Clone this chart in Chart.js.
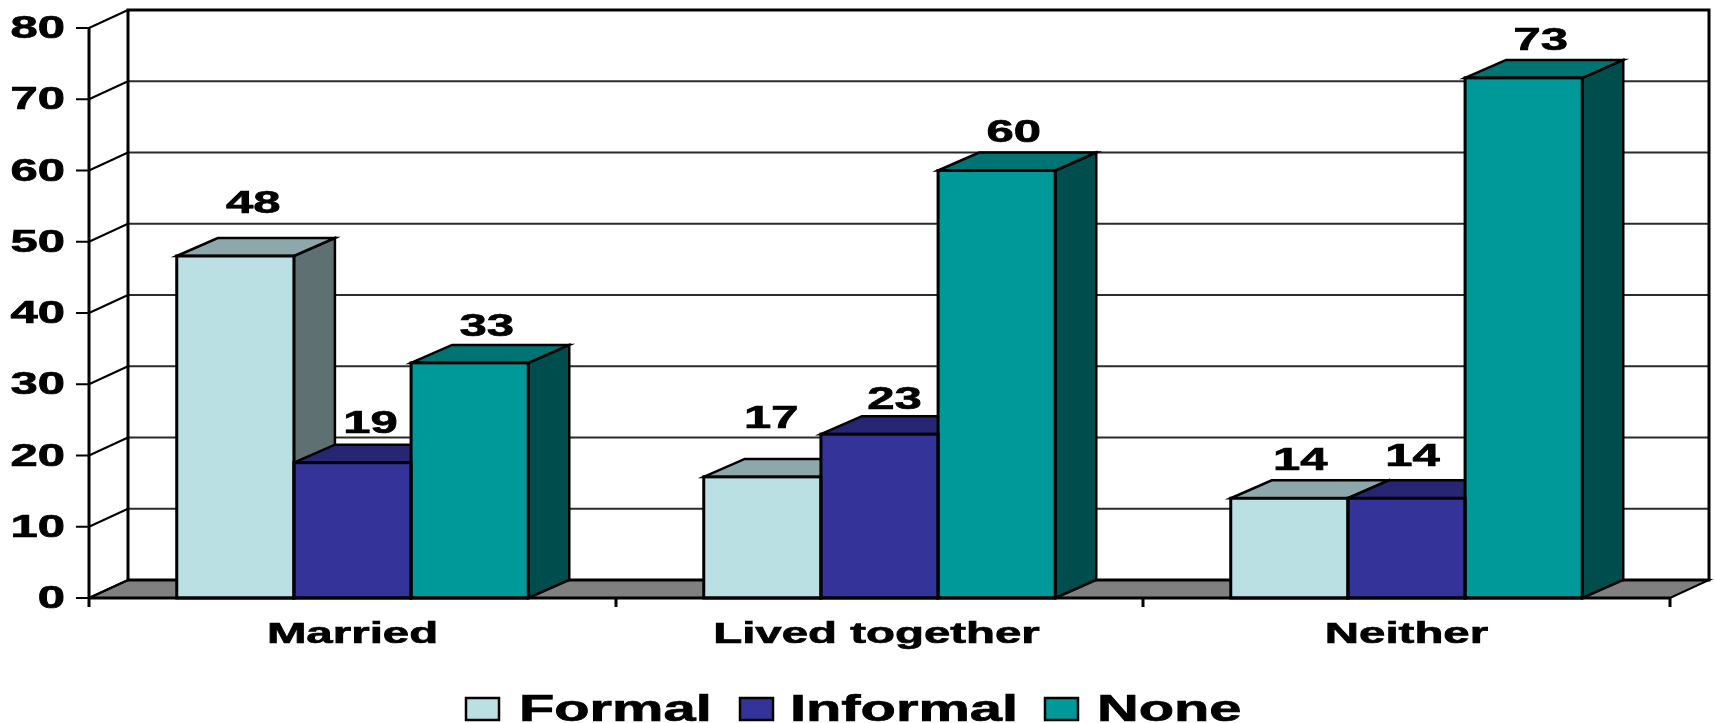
<!DOCTYPE html>
<html>
<head>
<meta charset="utf-8">
<title>Formal, informal and no union by living arrangement</title>
<style>
  html, body { margin: 0; padding: 0; background: #fff; }
  canvas { display: block; }
</style>
<script src="https://cdn.jsdelivr.net/npm/chart.js@4/dist/chart.umd.min.js"></script>
</head>
<body>
<canvas id="chart" width="1715" height="723"></canvas>
<script>
'use strict';

/* ─── DATA ───────────────────────────────────────────────── */
const categories   = ['Married', 'Lived together', 'Neither'];
const seriesNames  = ['Formal', 'Informal', 'None'];
const formal       = [48, 17, 14];
const informal     = [19, 23, 14];
const none         = [33, 60, 73];
const yTicks       = [0, 10, 20, 30, 40, 50, 60, 70, 80];

/* ─── LOOK ───────────────────────────────────────────────── */
const FONT        = '"Liberation Sans", Arial, sans-serif';
const STRETCH     = 1.58;
const NUM_SIZE    = 31;
const CAT_SIZE    = 30;
const LEGEND_SIZE = 36.6;
const TEXT_DROP   = 1.5;   // optical centring of the bold glyphs
const FRONT       = ['#BBE0E3', '#333399', '#009999'];
const TOP         = ['#8CA8AA', '#262673', '#007373'];
const SIDE        = ['#5E7072', '#1A1A4D', '#004D4D'];
const WALL_DX     = 39, WALL_DY = 18;   // depth of the back wall
const BAR_DX      = 41, BAR_DY  = 18;   // depth of each column

// hand placed value labels, offset from the top centre of the column face
const labelShift  = [[18, 9, 11], [18, 15, 6], [17, 17, 17]];
const labelRise   = [[53, 59, 38], [40, 35, 42], [37, 39, 38]];
const catShift    = [0, -3, 0];

const legendBoxX  = [466, 740, 1045];
const legendTextX = [519, 790, 1097];
const LEGEND_Y    = 709;

/* ─── HELPERS ────────────────────────────────────────────── */
function wideText(ctx, text, x, y, size, align) {
  ctx.save();
  ctx.font = `bold ${size}px ${FONT}`;
  ctx.fillStyle = '#000';
  ctx.strokeStyle = '#000';
  ctx.lineWidth = 0.7;
  ctx.textBaseline = 'middle';
  ctx.textAlign = align;
  ctx.translate(x, y + TEXT_DROP);
  ctx.scale(STRETCH, 1);
  ctx.fillText(text, 0, 0);
  ctx.strokeText(text, 0, 0);
  ctx.restore();
}

function poly(ctx, pts, fill, width) {
  ctx.beginPath();
  pts.forEach((p, i) => (i ? ctx.lineTo(p[0], p[1]) : ctx.moveTo(p[0], p[1])));
  ctx.closePath();
  ctx.fillStyle = fill;
  ctx.fill();
  ctx.lineWidth = width;
  ctx.strokeStyle = '#000';
  ctx.stroke();
}

function line(ctx, x1, y1, x2, y2, width, color) {
  ctx.beginPath();
  ctx.moveTo(x1, y1);
  ctx.lineTo(x2, y2);
  ctx.lineWidth = width;
  ctx.strokeStyle = color;
  ctx.stroke();
}

/* ─── WALLS, FLOOR AND AXES ──────────────────────────────── */
const wallsPlugin = {
  id: 'walls',
  beforeDatasetsDraw(chart) {
    const { ctx, chartArea: a, scales: { y } } = chart;
    ctx.save();
    ctx.lineJoin = 'miter';

    // floor
    poly(ctx, [[a.left, a.bottom], [a.left + WALL_DX, a.bottom - WALL_DY],
               [a.right + WALL_DX, a.bottom - WALL_DY], [a.right, a.bottom]], '#808080', 2);

    // grid lines run along the back wall and down the side wall
    yTicks.forEach(v => {
      const py = y.getPixelForValue(v);
      if (v > 0 && v < 80) {
        line(ctx, a.left + WALL_DX, py - WALL_DY, a.right + WALL_DX, py - WALL_DY, 2, '#2b2b2b');
      }
      line(ctx, a.left, py, a.left + WALL_DX, py - WALL_DY, 2, '#000');
      line(ctx, a.left - 13, py, a.left, py, 2, '#000');
      wideText(ctx, String(v), a.left - 24, py, NUM_SIZE, 'right');
    });

    // back wall frame
    ctx.beginPath();
    ctx.rect(a.left + WALL_DX, a.top - WALL_DY, a.width, a.height);
    ctx.lineWidth = 3;
    ctx.strokeStyle = '#000';
    ctx.stroke();

    // column depth faces, left to right so nearer faces cover earlier ones
    categories.forEach((_, c) => {
      chart.data.datasets.forEach((_, s) => {
        const b = chart.getDatasetMeta(s).data[c];
        const l = b.x - b.width / 2, r = b.x + b.width / 2;
        poly(ctx, [[r, b.y], [r + BAR_DX, b.y - BAR_DY],
                   [r + BAR_DX, b.base - BAR_DY], [r, b.base]], SIDE[s], 2.5);
        poly(ctx, [[l, b.y], [l + BAR_DX, b.y - BAR_DY],
                   [r + BAR_DX, b.y - BAR_DY], [r, b.y]], TOP[s], 2.5);
      });
    });
    ctx.restore();
  },

  afterDatasetsDraw(chart) {
    const { ctx, chartArea: a } = chart;
    const bandW = a.width / categories.length;
    ctx.save();

    // front axes and their ticks
    line(ctx, a.left, a.top, a.left, a.bottom + 9, 3, '#000');
    line(ctx, a.left, a.bottom, a.right, a.bottom, 3, '#000');
    categories.forEach((_, c) => {
      line(ctx, a.left + bandW * (c + 1), a.bottom, a.left + bandW * (c + 1), a.bottom + 9, 3, '#000');
    });

    // outline column fronts so neighbours share one stroke
    chart.data.datasets.forEach((ds, s) => {
      chart.getDatasetMeta(s).data.forEach((b, c) => {
        ctx.lineWidth = 3;
        ctx.strokeStyle = '#000';
        ctx.strokeRect(b.x - b.width / 2, b.y, b.width, b.base - b.y);
        wideText(ctx, String(ds.data[c]), b.x + labelShift[s][c], b.y - labelRise[s][c], NUM_SIZE, 'center');
      });
    });

    // category labels
    categories.forEach((name, c) => {
      wideText(ctx, name, chart.scales.x.getPixelForValue(c) + catShift[c], 633, CAT_SIZE, 'center');
    });

    // legend
    chart.data.datasets.forEach((ds, s) => {
      ctx.fillStyle = FRONT[s];
      ctx.fillRect(legendBoxX[s], LEGEND_Y - 11, 33, 22);
      ctx.lineWidth = 2.5;
      ctx.strokeStyle = '#000';
      ctx.strokeRect(legendBoxX[s], LEGEND_Y - 11, 33, 22);
      wideText(ctx, ds.label, legendTextX[s], LEGEND_Y, LEGEND_SIZE, 'left');
    });
    ctx.restore();
  },
};

/* ─── CHART ──────────────────────────────────────────────── */
const ctx = document.getElementById('chart').getContext('2d');
new Chart(ctx, {
  type: 'bar',
  data: {
    labels: categories,
    datasets: [formal, informal, none].map((values, i) => ({
      label: seriesNames[i],
      data: values,
      backgroundColor: FRONT[i],
      borderWidth: 0,
      barPercentage: 1,
      categoryPercentage: 0.667,
    })),
  },
  options: {
    responsive: false,
    animation: false,
    layout: { padding: { left: 89, right: 45, top: 28, bottom: 125 } },
    plugins: { legend: { display: false }, tooltip: { enabled: false } },
    scales: {
      x: {
        grid: { display: false, drawTicks: false },
        border: { display: false },
        ticks: { display: false },
      },
      y: {
        min: 0,
        max: 80,
        afterBuildTicks: axis => { axis.ticks = yTicks.map(value => ({ value })); },
        grid: { display: false, drawTicks: false },
        border: { display: false },
        ticks: { display: false },
      },
    },
  },
  plugins: [wallsPlugin],
});
</script>
</body>
</html>
